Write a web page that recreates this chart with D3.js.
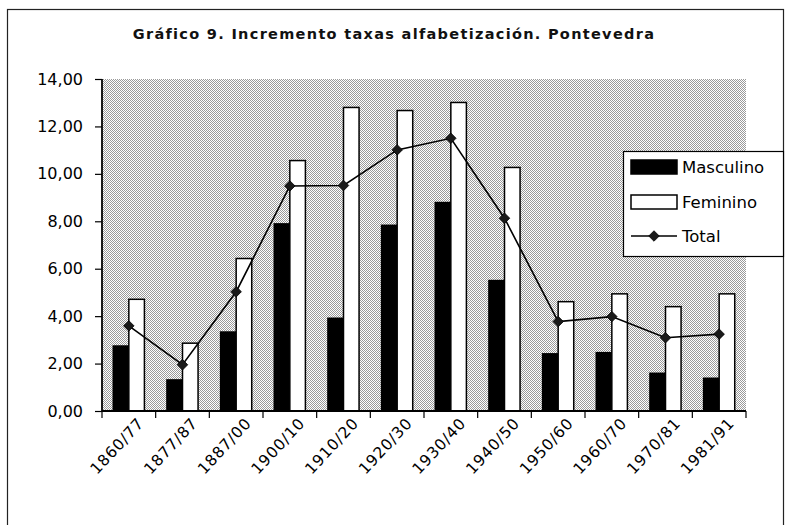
<!DOCTYPE html>
<html>
<head>
<meta charset="utf-8">
<script src="https://cdn.jsdelivr.net/npm/d3@7"></script>
<style>
  body { margin: 0; background: #fff; }
  svg { font-family: "DejaVu Sans", sans-serif; }
</style>
</head>
<body>
<svg id="chart" width="785" height="525"></svg>
<script>
const periods = ["1860/77", "1877/87", "1887/00", "1900/10", "1910/20", "1920/30",
                 "1930/40", "1940/50", "1950/60", "1960/70", "1970/81", "1981/91"];
const masculino = [2.74, 1.31, 3.33, 7.89, 3.91, 7.83, 8.79, 5.50, 2.41, 2.46, 1.59, 1.38];
const feminino = [4.71, 2.86, 6.43, 10.56, 12.80, 12.67, 13.01, 10.27, 4.61, 4.94, 4.40, 4.94];
const total = [3.59, 1.95, 5.03, 9.49, 9.51, 11.01, 11.50, 8.13, 3.77, 3.98, 3.09, 3.24];
const yTicks = [0, 2, 4, 6, 8, 10, 12, 14];
const seriesNames = ["Masculino", "Feminino"];

const plot = { left: 102, right: 746, top: 79, bottom: 411 };

const svg = d3.select("#chart");

// stipple pattern for the plot background
const defs = svg.append("defs");
const pat = defs.append("pattern")
  .attr("id", "stipple")
  .attr("width", 2).attr("height", 2)
  .attr("patternUnits", "userSpaceOnUse");
pat.append("rect").attr("width", 2).attr("height", 2).attr("fill", "#fff");
pat.append("rect").attr("x", 0).attr("y", 0).attr("width", 1).attr("height", 1).attr("fill", "#9a9a9a");
pat.append("rect").attr("x", 1).attr("y", 1).attr("width", 1).attr("height", 1).attr("fill", "#9a9a9a");

// outer frame
svg.append("rect")
  .attr("x", 7.5).attr("y", 9.5)
  .attr("width", 776).attr("height", 530)
  .attr("fill", "none")
  .attr("stroke", "#222")
  .attr("stroke-width", 1.2);

svg.append("text")
  .attr("x", 394)
  .attr("y", 39)
  .attr("text-anchor", "middle")
  .style("font-size", "14.5px")
  .style("font-weight", "bold")
  .style("letter-spacing", "1.3px")
  .style("fill", "#111")
  .text("Gráfico 9. Incremento taxas alfabetización. Pontevedra");

const x = d3.scaleBand()
  .domain(periods)
  .range([plot.left, plot.right]);

const bw = x.bandwidth();
const xSub = d3.scaleBand()
  .domain(seriesNames)
  .range([bw * 0.21, bw * 0.79]);

const y = d3.scaleLinear()
  .domain([0, 14])
  .range([plot.bottom, plot.top]);

svg.append("rect")
  .attr("x", plot.left).attr("y", plot.top)
  .attr("width", plot.right - plot.left)
  .attr("height", plot.bottom - plot.top)
  .attr("fill", "url(#stipple)");

// bars
const barData = periods.map((p, i) => ({ p, Masculino: masculino[i], Feminino: feminino[i] }));
const groups = svg.append("g").selectAll("g")
  .data(barData)
  .enter().append("g")
  .attr("transform", d => `translate(${x(d.p)},0)`);

groups.selectAll("rect")
  .data(d => seriesNames.map(k => ({ k, v: d[k] })))
  .enter().append("rect")
  .attr("x", d => xSub(d.k))
  .attr("y", d => y(d.v))
  .attr("width", xSub.bandwidth())
  .attr("height", d => y(0) - y(d.v))
  .attr("fill", d => d.k === "Masculino" ? "#000" : "#fff")
  .attr("stroke", "#000")
  .attr("stroke-width", 1.5);

// total line
const line = d3.line()
  .x((d, i) => x(periods[i]) + bw / 2)
  .y(d => y(d));

svg.append("path")
  .datum(total)
  .attr("fill", "none")
  .attr("stroke", "#000")
  .attr("stroke-width", 1.6)
  .attr("d", line);

const diamond = d3.symbol().type(d3.symbolDiamond2).size(70);
svg.append("g").selectAll("path")
  .data(total)
  .enter().append("path")
  .attr("d", diamond)
  .attr("transform", (d, i) => `translate(${x(periods[i]) + bw / 2},${y(d)})`)
  .attr("fill", "#1a1a1a")
  .attr("stroke", "#000")
  .attr("stroke-width", 0.8);

// y axis
const yAxis = svg.append("g")
  .attr("transform", `translate(${plot.left},0)`)
  .call(d3.axisLeft(y).tickValues(yTicks).tickSize(7).tickPadding(12)
    .tickFormat(d => d3.format(".2f")(d).replace(".", ",")));
yAxis.select(".domain").attr("stroke", "#000").attr("stroke-width", 1.8).attr("d", `M0,${plot.top}V${plot.bottom}`);
yAxis.selectAll(".tick line").attr("stroke", "#000").attr("stroke-width", 1.2);
yAxis.selectAll(".tick text")
  .attr("fill", "#000")
  .style("font-size", "16px")
  .style("font-family", "DejaVu Sans, sans-serif");

// x axis: ticks at band boundaries
const xAxisG = svg.append("g");
xAxisG.append("line")
  .attr("x1", plot.left).attr("x2", plot.right)
  .attr("y1", plot.bottom).attr("y2", plot.bottom)
  .attr("stroke", "#000").attr("stroke-width", 1.8);
xAxisG.selectAll("line.tk")
  .data(periods.concat(["end"]))
  .enter().append("line")
  .attr("class", "tk")
  .attr("x1", (d, i) => plot.left + i * bw)
  .attr("x2", (d, i) => plot.left + i * bw)
  .attr("y1", plot.bottom)
  .attr("y2", plot.bottom + 7)
  .attr("stroke", "#000").attr("stroke-width", 1.2);

xAxisG.selectAll("text")
  .data(periods)
  .enter().append("text")
  .attr("transform", d => `translate(${x(d) + bw / 2 + 16},${plot.bottom + 13}) rotate(-47)`)
  .attr("text-anchor", "end")
  .style("font-size", "15.5px")
  .style("letter-spacing", "0.8px")
  .text(d => d);

// legend
const legend = svg.append("g").attr("transform", "translate(623,151)");
legend.append("rect")
  .attr("x", 0.5).attr("y", 0.5)
  .attr("width", 160).attr("height", 105)
  .attr("fill", "#fff")
  .attr("stroke", "#000")
  .attr("stroke-width", 1.2);

const legendRows = [
  { name: "Masculino", type: "black", yc: 16 },
  { name: "Feminino", type: "white", yc: 51 },
  { name: "Total", type: "line", yc: 85 }
];
legendRows.forEach(r => {
  const g = legend.append("g").attr("transform", `translate(8,${r.yc})`);
  if (r.type === "line") {
    g.append("line").attr("x1", 0).attr("x2", 46).attr("y1", 0).attr("y2", 0)
      .attr("stroke", "#000").attr("stroke-width", 1.6);
    g.append("path").attr("d", diamond).attr("transform", "translate(23,0)")
      .attr("fill", "#1a1a1a").attr("stroke", "#000").attr("stroke-width", 0.8);
  } else {
    g.append("rect").attr("x", 0).attr("y", -7).attr("width", 46).attr("height", 14)
      .attr("fill", r.type === "black" ? "#000" : "#fff")
      .attr("stroke", "#000").attr("stroke-width", 1.5);
  }
  g.append("text")
    .attr("x", 51)
    .attr("y", 6)
    .style("font-size", "16.5px")
    .text(r.name);
});
</script>
</body>
</html>
